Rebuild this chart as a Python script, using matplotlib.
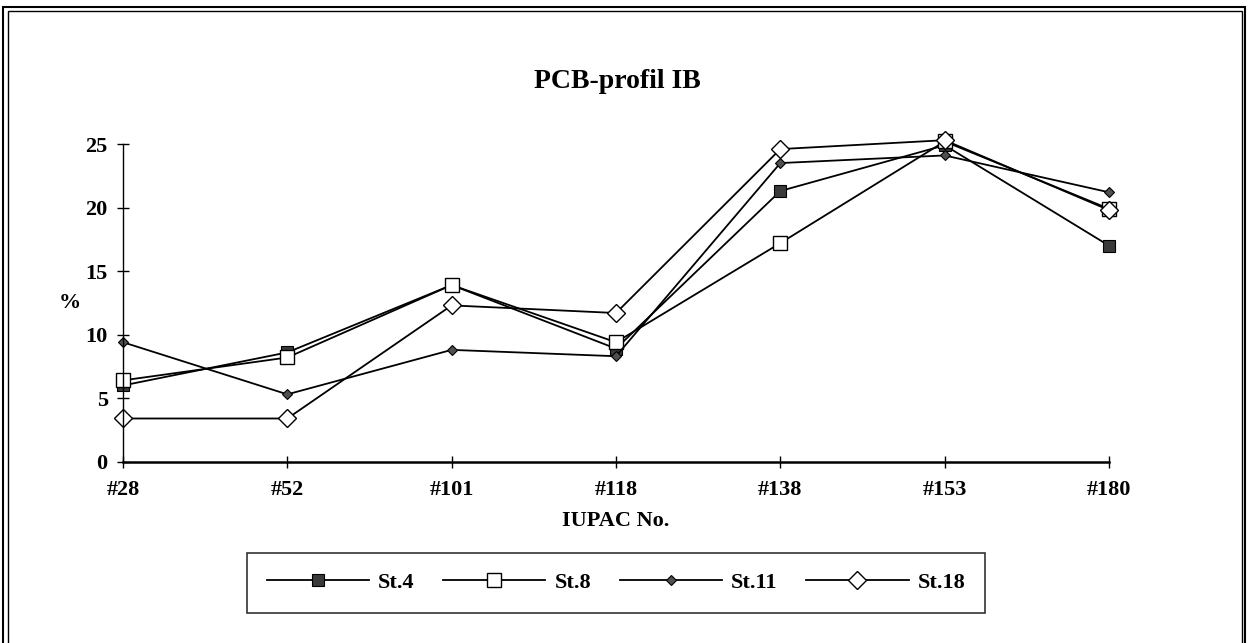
import matplotlib
matplotlib.use('Agg')
import matplotlib.pyplot as plt
from matplotlib.patches import Rectangle

# PCB profile, share of each congener in %
categories = ['#28', '#52', '#101', '#118', '#138', '#153', '#180']
st4 = [6.0, 8.6, 13.9, 8.9, 21.3, 24.9, 17.0]
st8 = [6.4, 8.2, 13.9, 9.4, 17.2, 25.2, 19.9]
st11 = [9.4, 5.3, 8.8, 8.3, 23.5, 24.1, 21.2]
st18 = [3.4, 3.4, 12.3, 11.7, 24.6, 25.3, 19.8]
yTicks = [0, 5, 10, 15, 20, 25]

plt.rcParams['font.family'] = ['Liberation Serif', 'DejaVu Serif']
plt.rcParams['font.weight'] = 'bold'

W, H = 1248, 643
fig = plt.figure(figsize=(W / 100, H / 100), dpi=100)
ax = fig.add_axes([123 / W, 1 - 461.7 / H, (1109 - 123) / W, (461.7 - 144) / H])

x = list(range(len(categories)))
lw = 1.3
ax.plot(x, st4, '-', color='black', lw=lw, marker='s', markersize=8,
        markerfacecolor='#3a3a3a', markeredgecolor='black', markeredgewidth=0.8, label='St.4')
ax.plot(x, st8, '-', color='black', lw=lw, marker='s', markersize=10,
        markerfacecolor='white', markeredgecolor='black', markeredgewidth=1.0, label='St.8')
ax.plot(x, st11, '-', color='black', lw=lw, marker='D', markersize=5.5,
        markerfacecolor='#505050', markeredgecolor='black', markeredgewidth=0.8, label='St.11')
ax.plot(x, st18, '-', color='black', lw=lw, marker='D', markersize=9,
        markerfacecolor='white', markeredgecolor='black', markeredgewidth=1.0, label='St.18')

ax.set_xlim(0, len(categories) - 1)
ax.set_ylim(0, 25)
ax.set_xticks(x)
ax.set_xticklabels(categories)
ax.set_yticks(yTicks)
for line in ax.lines:
    line.set_clip_on(False)

for side in ['top', 'right']:
    ax.spines[side].set_visible(False)
ax.spines['left'].set_linewidth(1.0)
ax.spines['bottom'].set_linewidth(1.8)
ax.tick_params(axis='both', direction='inout', length=8, width=1.0, labelsize=16)
ax.tick_params(axis='x', pad=9)
ax.tick_params(axis='y', pad=7)

ax.set_ylabel('%', rotation=0, fontsize=16, fontweight='bold', va='center')
ax.yaxis.set_label_coords(-0.054, 0.5)
ax.set_xlabel('IUPAC No.', fontsize=16, fontweight='bold', va='center')
ax.xaxis.set_label_coords(0.5, -(521 - 461.7) / (461.7 - 144))

fig.text(617 / W, 1 - 82 / H, 'PCB-profil IB', ha='center', va='center',
         fontsize=20, fontweight='bold')

leg = fig.legend(loc='center', bbox_to_anchor=(616 / W, 1 - 583 / H), ncol=4,
                 fontsize=16, handlelength=4.6, handletextpad=0.4, columnspacing=1.3,
                 borderpad=0.9, fancybox=False, frameon=True)
leg.get_frame().set_edgecolor('black')
leg.get_frame().set_linewidth(1.2)

# double frame around the whole chart area
fig.patches.append(Rectangle((3 / W, -0.01), (1245 - 3) / W, 1 - 7 / H + 0.01,
                             transform=fig.transFigure, fill=False, edgecolor='black', lw=1.5))
fig.patches.append(Rectangle((7.5 / W, -0.01), (1242 - 7.5) / W, 1 - 11 / H + 0.01,
                             transform=fig.transFigure, fill=False, edgecolor='black', lw=1.0))

fig.savefig('out.png', dpi=100)
